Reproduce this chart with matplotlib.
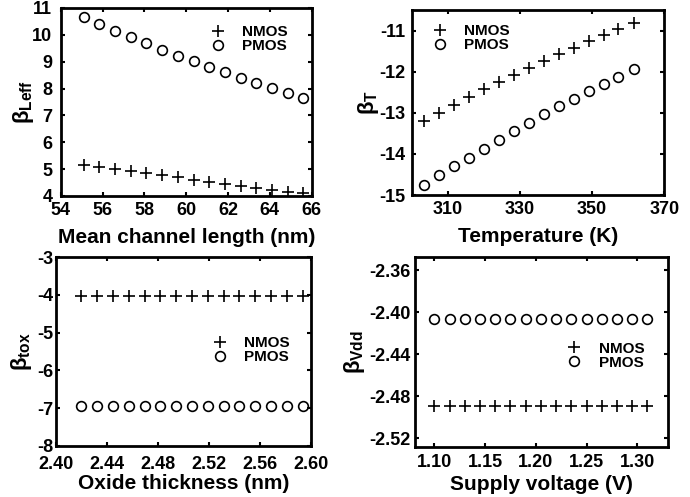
import matplotlib
matplotlib.use('Agg')
import matplotlib.pyplot as plt
from matplotlib.ticker import FormatStrFormatter

plt.rcParams['font.family'] = ['Liberation Sans', 'DejaVu Sans']
plt.rcParams['font.weight'] = 'bold'
plt.rcParams['axes.unicode_minus'] = False
plt.rcParams['mathtext.fontset'] = 'custom'
plt.rcParams['mathtext.rm'] = 'Liberation Sans:bold'
plt.rcParams['mathtext.it'] = 'Liberation Sans:bold'
plt.rcParams['mathtext.bf'] = 'Liberation Sans:bold'

# panel 1: mean channel length
leff_x = [55.1, 55.85, 56.6, 57.35, 58.1, 58.85, 59.6, 60.35, 61.1, 61.85, 62.6, 63.35, 64.1, 64.85, 65.6]
leff_n = [5.16, 5.09, 5.02, 4.94, 4.86, 4.77, 4.69, 4.61, 4.53, 4.46, 4.38, 4.31, 4.23, 4.16, 4.11]
leff_p = [10.65, 10.41, 10.16, 9.92, 9.70, 9.45, 9.23, 9.03, 8.81, 8.61, 8.41, 8.20, 8.01, 7.82, 7.65]

# panel 2: temperature
temp_x = [303.4, 307.5, 311.7, 315.8, 320.0, 324.1, 328.3, 332.4, 336.6, 340.7, 344.9, 349.0, 353.2, 357.3, 361.5]
temp_n = [-13.20, -13.00, -12.81, -12.62, -12.43, -12.26, -12.09, -11.92, -11.75, -11.58, -11.42, -11.26, -11.12, -10.97, -10.82]
temp_p = [-14.76, -14.52, -14.30, -14.09, -13.87, -13.65, -13.44, -13.24, -13.04, -12.84, -12.66, -12.48, -12.30, -12.12, -11.94]

# panel 3: oxide thickness
tox_x = [2.420, 2.4324, 2.4448, 2.4572, 2.4696, 2.482, 2.4944, 2.5068, 2.5192, 2.5316, 2.544, 2.5564, 2.5688, 2.5812, 2.5936]
tox_n = [-4.04] * 15
tox_p = [-6.94] * 15

# panel 4: supply voltage
vdd_x = [1.100, 1.115, 1.130, 1.145, 1.160, 1.175, 1.190, 1.205, 1.220, 1.235, 1.250, 1.265, 1.280, 1.295, 1.310]
vdd_n = [-2.489] * 15
vdd_p = [-2.406] * 15

W, H = 690, 497
fig = plt.figure(figsize=(W / 100, H / 100), dpi=100)


def make_ax(l, r, t, b):
    return fig.add_axes([l / W, 1 - b / H, (r - l) / W, (b - t) / H])


panels = [
    dict(box=(60.7, 311.7, 8, 196), x=leff_x, n=leff_n, p=leff_p,
         xlim=(54, 66), ylim=(4, 11), xt=[54, 56, 58, 60, 62, 64, 66], yt=[4, 5, 6, 7, 8, 9, 10, 11],
         xl='Mean channel length (nm)', yl=r'$\beta_{Leff}$', fmt=None, leg=(0.595, 0.91),
         ypad=6, xpad=4.5, xlpad=6, ylpad=-2.5),
    dict(box=(411.7, 664.3, 10, 195), x=temp_x, n=temp_n, p=temp_p,
         xlim=(300, 370), ylim=(-15, -10.5), xt=[310, 330, 350, 370], yt=[-15, -14, -13, -12, -11],
         xl='Temperature (K)', yl=r'$\beta_{T}$', fmt=None, leg=(0.08, 0.925),
         ypad=4.5, xpad=4.5, xlpad=6.5, ylpad=-1),
    dict(box=(56, 310.7, 257, 446), x=tox_x, n=tox_n, p=tox_p,
         xlim=(2.40, 2.60), ylim=(-8, -3), xt=[2.40, 2.44, 2.48, 2.52, 2.56, 2.60], yt=[-8, -7, -6, -5, -4, -3],
         xl='Oxide thickness (nm)', yl=r'$\beta_{tox}$', fmt=('%.2f', '%d'), leg=(0.612, 0.58),
         ypad=2, xpad=7, xlpad=1, ylpad=2),
    dict(box=(415, 667.7, 256.7, 446.7), x=vdd_x, n=vdd_n, p=vdd_p,
         xlim=(1.081, 1.330), ylim=(-2.528, -2.347), xt=[1.10, 1.15, 1.20, 1.25, 1.30],
         yt=[-2.52, -2.48, -2.44, -2.40, -2.36],
         xl='Supply voltage (V)', yl=r'$\beta_{Vdd}$', fmt=('%.2f', '%.2f'), leg=(0.6, 0.552),
         ypad=3, xpad=5, xlpad=3, ylpad=2),
]

for pnl in panels:
    ax = make_ax(*pnl['box'])
    ax.plot(pnl['x'], pnl['n'], linestyle='none', marker='+', color='black',
            markersize=8.5, markeredgewidth=1.2, label='NMOS')
    ax.plot(pnl['x'], pnl['p'], linestyle='none', marker='o', color='black',
            markerfacecolor='none', markersize=7, markeredgewidth=1.2, label='PMOS')
    ax.set_xlim(*pnl['xlim'])
    ax.set_ylim(*pnl['ylim'])
    ax.set_xticks(pnl['xt'])
    ax.set_yticks(pnl['yt'])
    if pnl['fmt']:
        ax.xaxis.set_major_formatter(FormatStrFormatter(pnl['fmt'][0]))
        ax.yaxis.set_major_formatter(FormatStrFormatter(pnl['fmt'][1]))
    ax.tick_params(direction='in', length=3, width=1.5, top=True, right=True,
                   labelsize=13)
    ax.tick_params(axis='x', pad=pnl['xpad'])
    ax.tick_params(axis='y', pad=pnl['ypad'])
    for lab in ax.get_xticklabels() + ax.get_yticklabels():
        lab.set_fontweight('bold')
    for s in ax.spines.values():
        s.set_linewidth(2)
    ax.set_xlabel(pnl['xl'], fontsize=15, fontweight='bold', labelpad=pnl['xlpad'])
    ax.set_ylabel(pnl['yl'], fontsize=16, labelpad=pnl['ylpad'])
    ax.legend(loc='upper left', bbox_to_anchor=pnl['leg'], frameon=False,
              borderpad=0, borderaxespad=0, handlelength=1.0, handletextpad=1.1,
              labelspacing=0.0, prop={'weight': 'bold', 'size': 11})

fig.savefig('out.png', dpi=100)
